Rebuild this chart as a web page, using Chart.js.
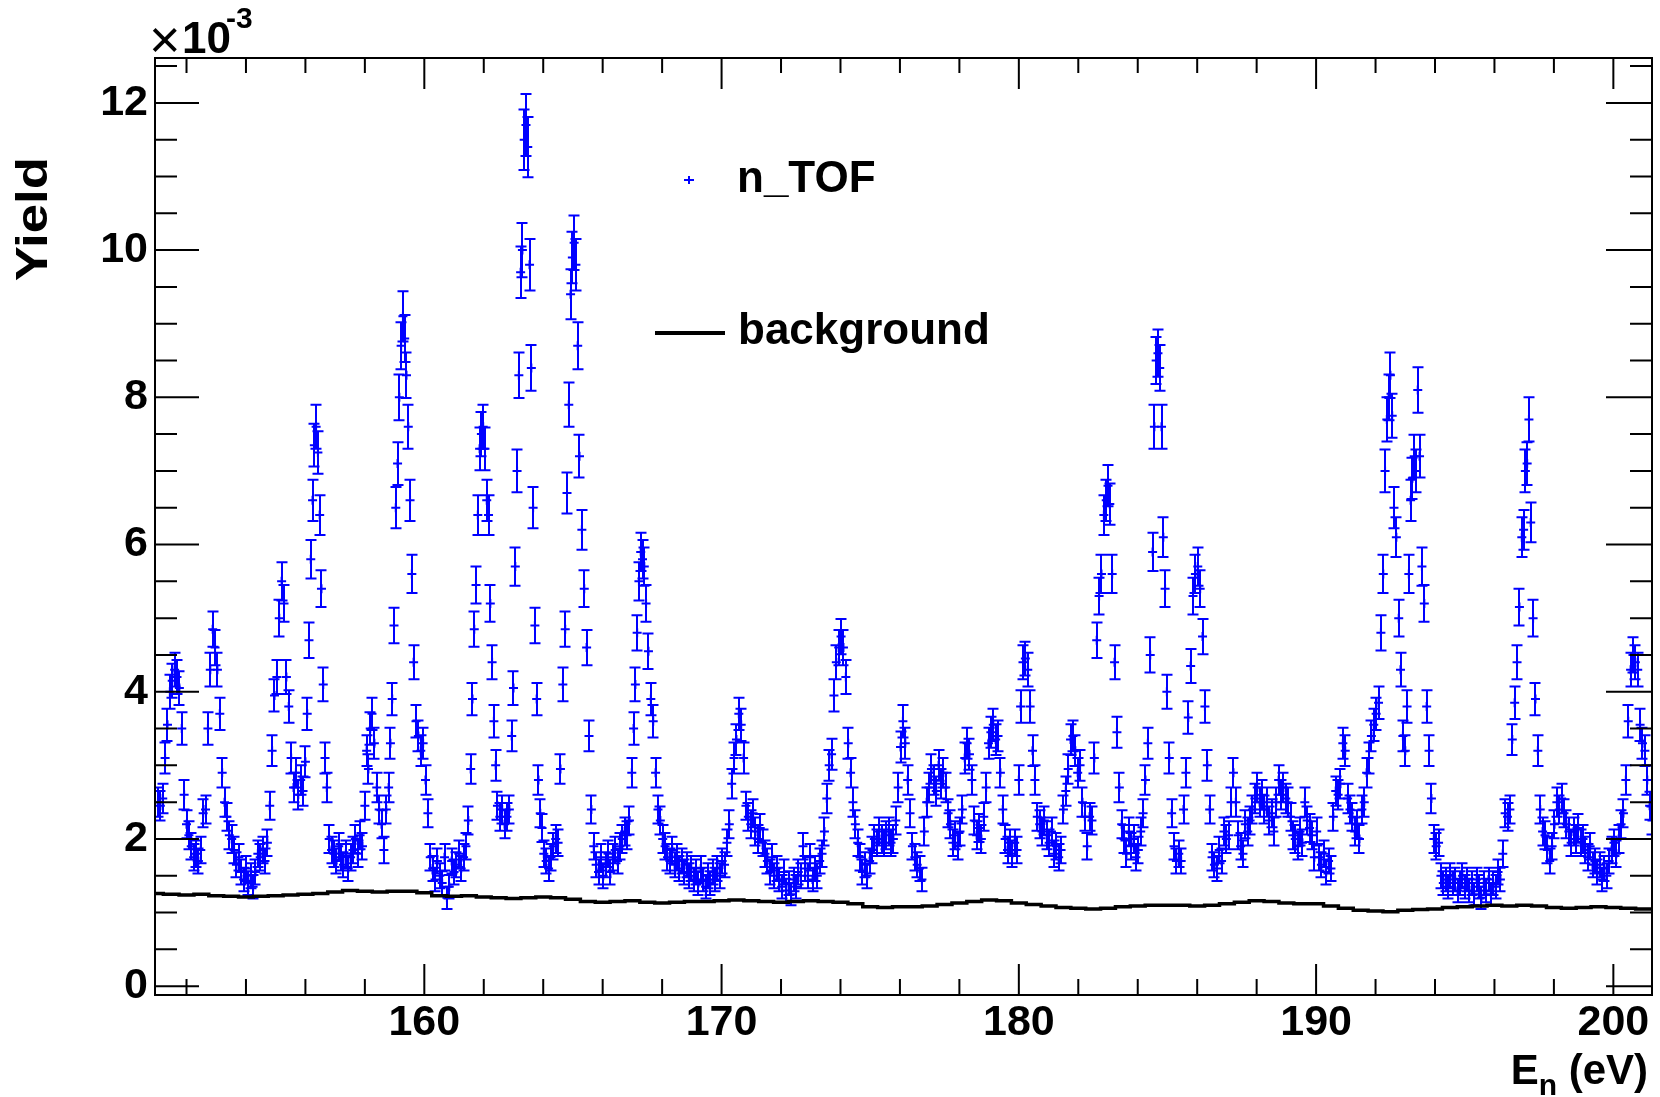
<!DOCTYPE html>
<html><head><meta charset="utf-8">
<script src="https://cdn.jsdelivr.net/npm/chart.js@4.4.1/dist/chart.umd.min.js"></script>
<style>html,body{margin:0;padding:0;background:#fff;}canvas{display:block;}</style>
</head><body>
<canvas id="c" width="1660" height="1097"></canvas>
<script>
// ---- data (yield in units of 1e-3) ----
const energy = [
151.04,151.12,151.20,151.28,151.36,151.44,151.52,151.60,151.68,151.76,151.84,151.92,152.00,152.08,152.16,152.24,152.32,152.40,152.48,152.56,152.64,152.72,152.80,152.88,152.96,153.04,153.12,153.20,153.28,153.36,153.44,153.52,153.60,153.68,153.76,153.84,153.92,154.00,154.08,154.16,154.24,154.32,154.40,154.48,154.56,154.64,154.72,154.80,154.88,154.96,
155.04,155.12,155.20,155.28,155.36,155.44,155.52,155.60,155.68,155.76,155.84,155.92,156.00,156.06,156.12,156.18,156.24,156.30,156.36,156.42,156.48,156.54,156.60,156.66,156.72,156.80,156.88,156.96,157.04,157.12,157.20,157.28,157.36,157.44,157.52,157.60,157.68,157.76,157.84,157.92,158.00,158.06,158.12,158.18,158.24,158.32,158.40,158.48,158.56,158.64,158.72,158.80,158.86,158.92,158.98,159.04,159.10,159.16,159.22,159.28,159.34,159.40,159.46,159.52,159.58,159.64,159.72,159.80,159.88,159.96,
160.04,160.12,160.20,160.28,160.36,160.44,160.52,160.60,160.68,160.76,160.84,160.92,161.00,161.08,161.16,161.24,161.32,161.40,161.48,161.56,161.62,161.68,161.74,161.80,161.86,161.92,161.98,162.04,162.10,162.16,162.22,162.28,162.34,162.40,162.46,162.54,162.62,162.70,162.78,162.86,162.94,163.00,163.06,163.12,163.18,163.24,163.30,163.36,163.42,163.48,163.54,163.60,163.66,163.72,163.78,163.84,163.90,163.96,
164.02,164.10,164.18,164.26,164.34,164.42,164.50,164.58,164.66,164.74,164.80,164.86,164.92,164.98,165.04,165.10,165.16,165.22,165.30,165.38,165.46,165.54,165.62,165.70,165.78,165.86,165.94,166.02,166.10,166.18,166.26,166.34,166.42,166.50,166.58,166.66,166.74,166.82,166.90,166.98,167.04,167.10,167.16,167.22,167.28,167.34,167.40,167.46,167.54,167.62,167.70,167.78,167.86,167.94,
168.02,168.10,168.18,168.26,168.34,168.42,168.50,168.58,168.66,168.74,168.82,168.90,168.98,169.06,169.14,169.22,169.30,169.38,169.46,169.54,169.62,169.70,169.78,169.86,169.94,170.02,170.10,170.18,170.26,170.34,170.42,170.50,170.58,170.66,170.74,170.82,170.90,170.98,171.06,171.14,171.22,171.30,171.38,171.46,171.54,171.62,171.70,171.78,171.86,171.94,
172.02,172.10,172.18,172.26,172.34,172.42,172.50,172.58,172.66,172.74,172.82,172.90,172.98,173.06,173.14,173.22,173.30,173.38,173.46,173.54,173.62,173.70,173.78,173.86,173.94,174.02,174.10,174.18,174.26,174.34,174.42,174.50,174.58,174.66,174.74,174.82,174.90,174.98,175.06,175.14,175.22,175.30,175.38,175.46,175.54,175.62,175.70,175.78,175.86,175.94,
176.02,176.10,176.18,176.26,176.34,176.42,176.50,176.58,176.66,176.74,176.82,176.90,176.98,177.06,177.14,177.22,177.30,177.38,177.46,177.54,177.62,177.70,177.78,177.86,177.94,178.02,178.10,178.18,178.26,178.34,178.42,178.50,178.58,178.66,178.74,178.82,178.90,178.98,179.06,179.14,179.22,179.30,179.38,179.46,179.54,179.62,179.70,179.78,179.86,179.94,
180.00,180.06,180.14,180.22,180.30,180.38,180.46,180.54,180.62,180.70,180.78,180.86,180.94,181.02,181.10,181.18,181.26,181.34,181.42,181.50,181.58,181.66,181.74,181.82,181.90,181.98,182.06,182.14,182.22,182.30,182.38,182.46,182.54,182.62,182.70,182.78,182.86,182.94,183.00,183.06,183.14,183.22,183.30,183.38,183.46,183.54,183.62,183.70,183.78,183.86,183.94,
184.02,184.10,184.18,184.26,184.34,184.42,184.50,184.56,184.62,184.68,184.74,184.80,184.86,184.92,184.98,185.06,185.14,185.22,185.30,185.38,185.46,185.54,185.62,185.70,185.78,185.86,185.94,186.02,186.10,186.18,186.26,186.34,186.42,186.50,186.58,186.66,186.74,186.82,186.90,186.98,187.06,187.14,187.22,187.30,187.38,187.46,187.54,187.62,187.70,187.78,187.86,187.94,
188.02,188.10,188.18,188.26,188.34,188.42,188.50,188.58,188.66,188.74,188.82,188.90,188.98,189.06,189.14,189.22,189.30,189.38,189.46,189.54,189.62,189.70,189.78,189.86,189.94,190.02,190.10,190.18,190.26,190.34,190.42,190.50,190.58,190.66,190.74,190.82,190.90,190.98,191.06,191.14,191.22,191.30,191.38,191.46,191.54,191.62,191.70,191.78,191.86,191.94,
192.02,192.10,192.18,192.26,192.32,192.38,192.44,192.50,192.56,192.62,192.70,192.78,192.84,192.92,193.00,193.06,193.12,193.18,193.24,193.30,193.36,193.42,193.48,193.56,193.64,193.72,193.80,193.88,193.96,194.04,194.12,194.20,194.28,194.36,194.44,194.52,194.60,194.68,194.76,194.84,194.92,195.00,195.08,195.16,195.24,195.32,195.40,195.48,195.56,195.64,195.72,195.80,195.88,195.96,
196.04,196.12,196.20,196.28,196.36,196.44,196.52,196.60,196.68,196.76,196.84,196.92,196.98,197.04,197.10,197.16,197.22,197.30,197.38,197.46,197.54,197.62,197.70,197.78,197.86,197.94,198.02,198.10,198.18,198.26,198.34,198.42,198.50,198.58,198.66,198.74,198.82,198.90,198.98,199.06,199.14,199.22,199.30,199.38,199.46,199.54,199.62,199.70,199.78,199.86,199.94,200.02,200.10,200.18,200.26,200.34,200.42,200.50,200.58,200.66,200.74,200.82,200.90,200.98,201.06,201.14,201.22,201.30
];
const yieldVal = [
2.50,2.45,2.55,3.10,3.55,4.00,4.15,4.30,4.20,4.05,3.50,2.60,2.20,2.05,1.90,1.75,1.80,1.70,1.85,2.35,2.40,3.50,4.30,4.85,4.60,4.30,3.70,2.90,2.50,2.30,2.05,2.00,1.85,1.65,1.75,1.55,1.45,1.60,1.40,1.50,1.35,1.55,1.80,1.75,1.85,1.70,1.95,2.45,3.20,3.95,
4.20,5.00,5.50,5.20,4.20,3.80,3.10,2.70,2.90,2.60,2.80,2.65,3.05,3.70,4.70,5.80,6.60,7.35,7.60,7.25,6.40,5.40,4.10,3.10,2.70,2.00,1.85,1.80,1.70,1.90,1.75,1.65,1.80,1.60,1.75,1.85,2.00,1.80,2.05,1.90,2.45,3.20,2.95,3.50,3.70,3.30,2.70,2.40,2.20,1.85,2.40,2.70,3.30,3.90,4.90,6.50,7.10,8.00,8.70,9.10,8.80,8.30,7.60,6.60,5.60,4.40,3.60,3.40,3.20,3.30,
2.80,2.35,1.75,1.60,1.45,1.70,1.50,1.40,1.75,1.20,1.35,1.70,1.55,1.65,1.80,1.60,1.75,1.90,2.25,2.95,3.90,4.85,5.45,6.40,7.30,7.50,7.60,7.30,6.60,6.40,5.20,4.40,3.60,3.00,2.45,2.30,2.40,2.20,2.30,2.40,3.40,4.05,5.70,7.00,8.30,9.70,10.00,11.50,11.70,11.40,9.80,8.40,6.50,4.90,3.90,2.80,2.35,2.15,
1.80,1.70,1.60,1.75,1.90,2.00,1.95,2.95,4.10,4.85,6.70,7.90,9.40,9.90,10.10,9.80,8.70,7.20,6.20,5.40,4.60,3.40,2.40,1.90,1.65,1.55,1.75,1.50,1.65,1.80,1.55,1.75,1.85,1.70,1.90,2.00,2.10,2.05,2.25,2.90,3.50,4.10,4.80,5.50,5.90,5.80,5.70,5.20,4.55,3.90,3.60,2.90,2.40,2.25,
2.00,1.90,1.75,1.70,1.85,1.65,1.75,1.60,1.70,1.55,1.65,1.50,1.60,1.45,1.55,1.40,1.60,1.45,1.35,1.50,1.40,1.55,1.45,1.60,1.50,1.70,1.65,1.95,2.20,2.75,3.10,3.35,3.70,3.55,3.10,2.45,2.30,2.20,2.35,2.10,2.00,2.15,1.95,1.80,1.70,1.55,1.75,1.50,1.60,1.45,
1.35,1.55,1.30,1.40,1.25,1.45,1.35,1.55,1.50,1.90,1.60,1.50,1.75,1.45,1.60,1.50,1.70,1.80,2.10,2.55,3.00,3.15,3.95,4.40,4.60,4.75,4.60,4.20,3.30,2.90,2.50,2.20,1.95,1.75,1.55,1.65,1.50,1.70,1.85,2.00,1.95,2.10,2.00,1.95,2.05,2.10,1.95,2.00,2.25,2.70,
3.25,3.60,3.30,2.80,2.35,1.90,1.75,1.65,1.60,1.45,2.10,2.50,2.70,2.95,2.80,2.65,3.00,2.75,2.90,2.70,2.35,2.20,1.95,2.05,1.90,2.10,2.40,3.10,3.30,3.15,2.80,2.25,2.05,2.15,2.00,2.30,2.70,3.30,3.45,3.55,3.35,3.40,2.90,2.40,2.00,1.85,1.95,1.80,1.95,1.85,
2.80,3.80,4.40,4.45,4.30,3.80,3.20,2.80,2.30,2.20,2.10,2.25,2.05,1.95,2.10,1.80,1.90,1.75,1.85,2.40,2.65,2.95,3.35,3.40,3.20,2.90,3.00,2.50,2.30,1.90,2.30,2.25,3.10,4.70,5.30,5.60,6.40,6.60,6.80,6.55,5.60,4.40,3.45,2.70,2.20,2.00,1.80,2.10,1.90,2.00,1.75,
1.85,2.10,2.35,2.80,3.30,4.50,5.90,7.60,8.50,8.60,8.40,7.60,6.10,5.40,4.00,3.10,2.35,1.90,1.70,1.80,1.70,2.40,2.90,3.65,4.35,5.30,5.60,5.70,5.40,4.75,3.80,3.00,2.40,1.75,1.65,1.60,1.85,1.70,2.10,2.00,2.05,2.50,2.90,2.50,2.05,1.90,1.80,2.20,2.10,2.25,2.40,2.55,
2.70,2.50,2.60,2.40,2.50,2.25,2.35,2.10,2.50,2.80,2.60,2.70,2.55,2.50,2.30,2.05,2.00,1.90,2.10,1.95,2.50,2.25,2.15,2.05,1.75,2.10,1.75,1.65,1.80,1.55,1.70,1.60,2.30,2.65,2.60,2.75,3.30,3.20,2.55,2.40,2.30,2.10,2.20,2.00,2.40,2.50,2.90,3.10,3.40,3.55,
3.70,3.85,4.80,5.60,7.00,7.70,8.00,8.30,7.75,6.50,6.10,5.00,4.30,3.40,3.20,3.80,5.60,6.60,6.90,7.20,7.00,8.10,7.20,5.70,5.20,3.80,3.20,2.55,2.00,1.90,1.95,1.50,1.40,1.45,1.35,1.50,1.40,1.45,1.30,1.40,1.50,1.35,1.45,1.30,1.40,1.25,1.45,1.35,1.20,1.40,1.30,1.45,1.25,1.40,
1.35,1.55,1.45,1.80,2.35,2.30,2.40,3.35,3.85,4.40,5.15,6.10,6.20,7.00,7.10,7.70,6.30,5.00,3.90,3.20,2.40,2.10,2.05,1.85,1.70,1.90,2.20,2.50,2.40,2.55,2.35,2.20,2.10,1.95,2.10,2.00,2.15,1.95,2.00,1.85,1.75,1.90,1.65,1.70,1.55,1.65,1.45,1.60,1.50,1.70,1.85,1.95,1.80,2.00,2.20,2.35,2.80,3.60,4.30,4.50,4.40,4.30,3.55,3.30,3.20,2.80,2.45,2.25
];
const yieldErr = [
0.20,0.20,0.20,0.21,0.22,0.23,0.23,0.23,0.23,0.23,0.22,0.20,0.19,0.19,0.18,0.18,0.18,0.17,0.18,0.19,0.19,0.22,0.23,0.24,0.24,0.23,0.22,0.20,0.20,0.19,0.19,0.19,0.18,0.17,0.18,0.17,0.16,0.17,0.16,0.17,0.16,0.17,0.18,0.18,0.18,0.17,0.18,0.19,0.21,0.22,
0.23,0.25,0.26,0.25,0.23,0.22,0.21,0.20,0.20,0.20,0.20,0.20,0.21,0.22,0.24,0.26,0.28,0.29,0.30,0.29,0.27,0.25,0.23,0.21,0.20,0.19,0.18,0.18,0.17,0.18,0.18,0.17,0.18,0.17,0.18,0.18,0.19,0.18,0.19,0.18,0.19,0.21,0.20,0.22,0.22,0.21,0.20,0.19,0.19,0.18,0.19,0.20,0.21,0.22,0.24,0.28,0.29,0.31,0.32,0.34,0.32,0.31,0.30,0.28,0.26,0.23,0.22,0.21,0.21,0.21,
0.20,0.19,0.18,0.17,0.16,0.17,0.17,0.16,0.18,0.15,0.16,0.17,0.17,0.17,0.18,0.17,0.18,0.18,0.19,0.20,0.22,0.24,0.25,0.27,0.29,0.30,0.30,0.29,0.28,0.27,0.25,0.23,0.22,0.21,0.19,0.19,0.19,0.19,0.19,0.19,0.21,0.23,0.26,0.29,0.31,0.35,0.37,0.41,0.42,0.41,0.35,0.31,0.28,0.24,0.22,0.20,0.19,0.19,
0.18,0.17,0.17,0.18,0.18,0.19,0.18,0.20,0.23,0.24,0.28,0.30,0.34,0.35,0.37,0.35,0.32,0.29,0.27,0.25,0.24,0.21,0.19,0.18,0.17,0.17,0.18,0.17,0.17,0.18,0.17,0.18,0.18,0.17,0.18,0.19,0.19,0.19,0.19,0.20,0.22,0.23,0.24,0.26,0.26,0.26,0.26,0.25,0.24,0.22,0.22,0.20,0.19,0.19,
0.19,0.18,0.18,0.17,0.18,0.17,0.18,0.17,0.17,0.17,0.17,0.17,0.17,0.16,0.17,0.16,0.17,0.16,0.16,0.17,0.16,0.17,0.16,0.17,0.17,0.17,0.17,0.18,0.19,0.20,0.21,0.21,0.22,0.22,0.21,0.19,0.19,0.19,0.19,0.19,0.19,0.19,0.18,0.18,0.17,0.17,0.18,0.17,0.17,0.16,
0.16,0.17,0.16,0.16,0.15,0.16,0.16,0.17,0.17,0.18,0.17,0.17,0.18,0.16,0.17,0.17,0.17,0.18,0.19,0.20,0.21,0.21,0.22,0.23,0.24,0.24,0.24,0.23,0.21,0.20,0.20,0.19,0.18,0.18,0.17,0.17,0.17,0.17,0.18,0.19,0.18,0.19,0.19,0.18,0.19,0.19,0.18,0.19,0.19,0.20,
0.21,0.22,0.21,0.20,0.19,0.18,0.18,0.17,0.17,0.16,0.19,0.20,0.20,0.20,0.20,0.20,0.21,0.20,0.20,0.20,0.19,0.19,0.18,0.19,0.18,0.19,0.19,0.21,0.21,0.21,0.20,0.19,0.19,0.19,0.19,0.19,0.20,0.21,0.21,0.22,0.21,0.21,0.20,0.19,0.19,0.18,0.18,0.18,0.18,0.18,
0.20,0.22,0.23,0.23,0.23,0.22,0.21,0.20,0.19,0.19,0.19,0.19,0.19,0.18,0.19,0.18,0.18,0.18,0.18,0.19,0.20,0.20,0.21,0.21,0.21,0.20,0.21,0.20,0.19,0.18,0.19,0.19,0.21,0.24,0.25,0.26,0.27,0.28,0.28,0.28,0.26,0.23,0.21,0.20,0.19,0.19,0.18,0.19,0.18,0.19,0.18,
0.18,0.19,0.19,0.20,0.21,0.24,0.26,0.30,0.32,0.32,0.31,0.30,0.27,0.25,0.23,0.21,0.19,0.18,0.17,0.18,0.17,0.19,0.20,0.22,0.23,0.25,0.26,0.26,0.25,0.24,0.22,0.21,0.19,0.18,0.17,0.17,0.18,0.17,0.19,0.19,0.19,0.20,0.20,0.20,0.19,0.18,0.18,0.19,0.19,0.19,0.19,0.20,
0.20,0.20,0.20,0.19,0.20,0.19,0.19,0.19,0.20,0.20,0.20,0.20,0.20,0.20,0.19,0.19,0.19,0.18,0.19,0.18,0.20,0.19,0.19,0.19,0.18,0.19,0.18,0.17,0.18,0.17,0.17,0.17,0.19,0.20,0.20,0.20,0.21,0.21,0.20,0.19,0.19,0.19,0.19,0.19,0.19,0.20,0.20,0.21,0.21,0.22,
0.22,0.22,0.24,0.26,0.29,0.30,0.31,0.31,0.30,0.28,0.27,0.25,0.23,0.21,0.21,0.22,0.26,0.28,0.28,0.29,0.29,0.31,0.29,0.26,0.25,0.22,0.21,0.20,0.19,0.18,0.18,0.17,0.16,0.16,0.16,0.17,0.16,0.16,0.16,0.16,0.17,0.16,0.16,0.16,0.16,0.15,0.16,0.16,0.15,0.16,0.16,0.16,0.15,0.16,
0.16,0.17,0.16,0.18,0.19,0.19,0.19,0.21,0.22,0.23,0.25,0.27,0.27,0.29,0.29,0.30,0.27,0.25,0.22,0.21,0.19,0.19,0.19,0.18,0.17,0.18,0.19,0.20,0.19,0.20,0.19,0.19,0.19,0.18,0.19,0.19,0.19,0.18,0.19,0.18,0.18,0.18,0.17,0.17,0.17,0.17,0.16,0.17,0.17,0.17,0.18,0.18,0.18,0.19,0.19,0.19,0.20,0.22,0.23,0.24,0.23,0.23,0.22,0.21,0.21,0.20,0.19,0.19
];
const bgEnergy = [150.94,151.5,152.0,152.5,153.0,153.5,154.0,154.5,155.0,155.5,156.0,156.5,157.0,157.5,158.0,158.5,159.0,159.5,160.0,160.5,161.0,161.5,162.0,162.5,163.0,163.5,164.0,164.5,165.0,165.5,166.0,166.5,167.0,167.5,168.0,168.5,169.0,169.5,170.0,170.5,171.0,171.5,172.0,172.5,173.0,173.5,174.0,174.5,175.0,175.5,176.0,176.5,177.0,177.5,178.0,178.5,179.0,179.5,180.0,180.5,181.0,181.5,182.0,182.5,183.0,183.5,184.0,184.5,185.0,185.5,186.0,186.5,187.0,187.5,188.0,188.5,189.0,189.5,190.0,190.5,191.0,191.5,192.0,192.5,193.0,193.5,194.0,194.5,195.0,195.5,196.0,196.5,197.0,197.5,198.0,198.5,199.0,199.5,200.0,200.5,201.0,201.30];
const bgYield = [1.26,1.25,1.24,1.25,1.23,1.22,1.21,1.22,1.23,1.24,1.25,1.26,1.28,1.30,1.29,1.28,1.29,1.29,1.27,1.23,1.22,1.23,1.21,1.20,1.19,1.20,1.21,1.20,1.18,1.15,1.14,1.15,1.16,1.14,1.13,1.14,1.15,1.15,1.16,1.17,1.16,1.15,1.14,1.15,1.16,1.15,1.14,1.12,1.08,1.07,1.08,1.08,1.09,1.11,1.13,1.15,1.17,1.16,1.13,1.11,1.09,1.07,1.06,1.05,1.06,1.08,1.09,1.10,1.10,1.10,1.09,1.10,1.12,1.14,1.16,1.15,1.13,1.12,1.12,1.09,1.06,1.03,1.02,1.01,1.03,1.04,1.05,1.07,1.08,1.09,1.10,1.09,1.10,1.09,1.07,1.06,1.07,1.08,1.07,1.06,1.05,1.05];
const xTickValues = [160,170,180,190,200];
const yTickValues = [0,2,4,6,8,10,12];
const xRange = [150.94, 201.30];
const yRange = [-0.12, 12.61];

// ---- drawing ----
const FONT = '"Liberation Sans", Arial, Helvetica, sans-serif';
if (energy.length !== yieldVal.length || energy.length !== yieldErr.length) {
  console.warn('length mismatch', energy.length, yieldVal.length, yieldErr.length);
}
const nPts = Math.min(energy.length, yieldVal.length, yieldErr.length);
const points = [];
for (let i = 0; i < nPts; i++) points.push({x: energy[i], y: yieldVal[i]});
const bgPoints = bgEnergy.map((e, i) => ({x: e, y: bgYield[i]}));

const rootStyle = {
  id: 'rootStyle',
  beforeDatasetsDraw(chart) {
    const {ctx, chartArea: a} = chart;
    const xs = chart.scales.x, ys = chart.scales.y;
    ctx.save();
    ctx.beginPath(); ctx.rect(a.left, a.top, a.right - a.left, a.bottom - a.top); ctx.clip();
    ctx.strokeStyle = '#0000ff'; ctx.lineWidth = 2;
    ctx.beginPath();
    for (let i = 0; i < nPts; i++) {
      const px = Math.round(xs.getPixelForValue(energy[i]));
      const pt = ys.getPixelForValue(yieldVal[i] + yieldErr[i]);
      const pb = ys.getPixelForValue(yieldVal[i] - yieldErr[i]);
      ctx.moveTo(px, pt); ctx.lineTo(px, pb);
      ctx.moveTo(px - 5.5, pt); ctx.lineTo(px + 5.5, pt);
      ctx.moveTo(px - 5.5, pb); ctx.lineTo(px + 5.5, pb);
    }
    ctx.stroke();
    ctx.restore();
  },
  afterDraw(chart) {
    const {ctx, chartArea: a} = chart;
    const xs = chart.scales.x, ys = chart.scales.y;
    ctx.save();
    ctx.strokeStyle = '#000'; ctx.lineWidth = 2;
    ctx.beginPath();
    for (let k = 0; ; k++) {
      const v = k * 0.5; if (v > ys.max) break;
      const py = ys.getPixelForValue(v); const major = (k % 4 === 0);
      ctx.moveTo(a.left, py); ctx.lineTo(a.left + (major ? 44 : 22), py);
      ctx.moveTo(a.right, py); ctx.lineTo(a.right - (major ? 46 : 22), py);
    }
    for (let v = 152; v <= xs.max; v += 2) {
      const px = xs.getPixelForValue(v); const major = (v % 10 === 0);
      ctx.moveTo(px, a.bottom); ctx.lineTo(px, a.bottom - (major ? 31 : 16));
      ctx.moveTo(px, a.top); ctx.lineTo(px, a.top + (major ? 31 : 15));
    }
    ctx.stroke();
    ctx.strokeRect(a.left, a.top, a.right - a.left, a.bottom - a.top);

    ctx.fillStyle = '#000';
    ctx.textBaseline = 'alphabetic';
    // exponent label  x10^-3
    ctx.textAlign = 'left';
    ctx.font = '54px ' + FONT; ctx.fillText('\u00d7', 149, 58);
    ctx.font = 'bold 44px ' + FONT; ctx.fillText('10', 182, 53);
    ctx.font = 'bold 30px ' + FONT; ctx.fillText('-3', 226, 28);
    // y title
    ctx.save();
    ctx.translate(47, 157); ctx.rotate(-Math.PI / 2); ctx.scale(1.2, 1);
    ctx.textAlign = 'right'; ctx.font = 'bold 44px ' + FONT;
    ctx.fillText('Yield', 0, 0);
    ctx.restore();
    // x title  E_n (eV)
    ctx.font = 'bold 42px ' + FONT; const wE = ctx.measureText('E').width;
    const wT = ctx.measureText(' (eV)').width;
    ctx.font = 'bold 30px ' + FONT; const wN = ctx.measureText('n').width;
    const x0 = 1648 - wE - wN - wT;
    ctx.font = 'bold 42px ' + FONT; ctx.fillText('E', x0, 1084);
    ctx.font = 'bold 30px ' + FONT; ctx.fillText('n', x0 + wE, 1095);
    ctx.font = 'bold 42px ' + FONT; ctx.fillText(' (eV)', x0 + wE + wN, 1084);
    // legend
    ctx.strokeStyle = '#0000ff'; ctx.lineWidth = 2;
    ctx.beginPath(); ctx.moveTo(684, 180); ctx.lineTo(694, 180); ctx.moveTo(689, 176); ctx.lineTo(689, 184); ctx.stroke();
    ctx.font = 'bold 44px ' + FONT; ctx.fillText('n_TOF', 737, 192);
    ctx.strokeStyle = '#000'; ctx.lineWidth = 4;
    ctx.beginPath(); ctx.moveTo(655, 333); ctx.lineTo(725, 333); ctx.stroke();
    ctx.fillText('background', 738, 344);
    ctx.restore();
  }
};

const tickFont = {family: FONT, size: 43, weight: 'bold'};
new Chart(document.getElementById('c'), {
  type: 'scatter',
  data: {datasets: [
    {label: 'background', data: bgPoints, showLine: true, stepped: 'middle', borderColor: '#000', borderWidth: 3.5, pointRadius: 0, order: 0},
    {label: 'n_TOF', data: points, showLine: false, pointStyle: 'cross', pointRadius: 4.5, pointBorderWidth: 2, borderColor: '#0000ff', backgroundColor: '#0000ff', order: 1}
  ]},
  options: {
    responsive: false, animation: false, devicePixelRatio: 1, events: [],
    layout: {padding: {left: 0, right: 8, top: 58, bottom: 0}},
    plugins: {legend: {display: false}, tooltip: {enabled: false}},
    scales: {
      x: {type: 'linear', min: xRange[0], max: xRange[1],
        grid: {display: false, drawTicks: false}, border: {display: false},
        afterBuildTicks: s => { s.ticks = xTickValues.map(v => ({value: v})); },
        afterFit: s => { s.height = 102; },
        ticks: {padding: 2, color: '#000', font: tickFont, maxRotation: 0, autoSkip: false, callback: v => String(v)}},
      y: {type: 'linear', min: yRange[0], max: yRange[1],
        grid: {display: false, drawTicks: false}, border: {display: false},
        afterBuildTicks: s => { s.ticks = yTickValues.map(v => ({value: v})); },
        afterFit: s => { s.width = 155; },
        ticks: {padding: 7, color: '#000', font: tickFont, autoSkip: false, callback: v => String(v)}}
    }
  },
  plugins: [rootStyle]
});
</script>
</body></html>
